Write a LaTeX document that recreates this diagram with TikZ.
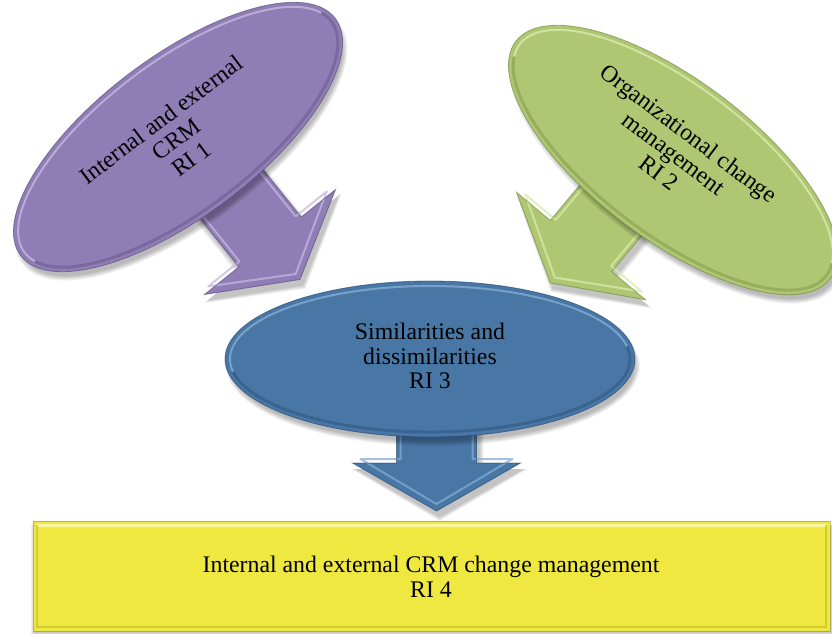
\documentclass[tikz,border=0pt]{standalone}
\usepackage{fontspec}
\setmainfont{Liberation Serif}
\usetikzlibrary{calc}

% colour sets: Fill / Light (bevel highlight) / Dark (bevel shade)
\definecolor{purpleFill}{RGB}{143,125,181}
\definecolor{purpleLight}{RGB}{196,184,224}
\definecolor{purpleDark}{RGB}{84,68,118}
\definecolor{greenFill}{RGB}{175,199,114}
\definecolor{greenLight}{RGB}{218,234,174}
\definecolor{greenDark}{RGB}{104,128,56}
\definecolor{blueFill}{RGB}{72,119,166}
\definecolor{blueLight}{RGB}{132,172,212}
\definecolor{blueDark}{RGB}{34,66,104}
\definecolor{yellowFill}{RGB}{238,232,64}
\definecolor{yellowLight}{RGB}{250,247,160}
\definecolor{yellowDark}{RGB}{160,154,20}

\tikzset{
  lbl/.style={font=\fontsize{23.8}{24.8}\selectfont, align=center, text=black, inner sep=0pt},
}

% bevelled, shadowed oval: #1 centre, #2 tilt, #3 half major axis, #4 half minor axis, #5 colour set
\newcommand\bevelOval[5]{%
  \pgfmathsetmacro\ovA{#3}\pgfmathsetmacro\ovB{#4}%
  \pgfmathsetmacro\inA{#3-5}\pgfmathsetmacro\inB{#4-5}%
  \begin{scope}[shift={(#1)}]
    \foreach \k in {0,...,5}{
      \pgfmathsetmacro\sa{#3-3+\k}\pgfmathsetmacro\sb{#4-3+\k}
      \fill[black, opacity=0.05, shift={(3,7)}, rotate=#2] (0,0) ellipse [x radius=\sa, y radius=\sb];
    }
    \begin{scope}[rotate=#2]
      \fill[#5Fill] (0,0) ellipse [x radius=\ovA, y radius=\ovB];
      \draw[#5Dark, line width=3, opacity=0.35] ({cos(-10)*\inA},{sin(-10)*\inB}) arc[start angle=-10, end angle=170, x radius=\inA, y radius=\inB];
      \draw[#5Light, line width=2, opacity=0.8] ({cos(170)*\inA},{sin(170)*\inB}) arc[start angle=170, end angle=350, x radius=\inA, y radius=\inB];
      \draw[#5Dark, line width=0.8, opacity=0.6] (0,0) ellipse [x radius=\ovA, y radius=\ovB];
    \end{scope}
  \end{scope}}

% bevelled block arrow: #1 middle of the head's base, #2 heading, #3 colour set
\newcommand\bevelArrow[3]{%
  \begin{scope}[shift={(#1)}]
    \foreach \k in {0,...,4}{
      \fill[black, opacity=0.05, shift={(3,6)}, rotate=#2]
        (-100,{-40-\k}) -- (0,{-40-\k}) -- (0,{-84-\k}) -- ({48+\k},0) -- (0,{84+\k}) -- (0,{40+\k}) -- (-100,{40+\k}) -- cycle;
    }
    \begin{scope}[rotate=#2]
      \fill[#3Fill] (-100,-40) -- (0,-40) -- (0,-84) -- (48,0) -- (0,84) -- (0,40) -- (-100,40) -- cycle;
      \draw[#3Light, line width=2, opacity=0.75, line join=round]
        (-100,-36) -- (-4,-36) -- (-4,-76) -- (41,0) -- (-4,76) -- (-4,36) -- (-100,36);
      \draw[#3Dark, line width=0.8, opacity=0.6, line join=miter]
        (-100,-40) -- (0,-40) -- (0,-84) -- (48,0) -- (0,84) -- (0,40) -- (-100,40);
    \end{scope}
  \end{scope}}

\begin{document}
\begin{tikzpicture}[x=1pt, y=-1pt]
  \useasboundingbox (0,0) rectangle (832,634);
  \clip (0,0) rectangle (832,634);

  % centres of the ovals and bases of the arrow heads
  \coordinate (c1) at (178,137);
  \coordinate (c2) at (673,160);
  \coordinate (c3) at (430,359);
  \coordinate (a1) at (270,242);
  \coordinate (a2) at (581,246);
  \coordinate (a3) at (436.5,463);

  % RI 1
  \bevelArrow{a1}{-51.3}{purple}
  \bevelOval{c1}{37}{197}{80}{purple}
  \node[lbl, rotate=37] (ri1) at (176,139) {Internal and external\\CRM\\RI 1};

  % RI 2
  \bevelArrow{a2}{-129.8}{green}
  \bevelOval{c2}{-37}{197}{80}{green}
  \node[lbl, rotate=-37] (ri2) at (674,153) {Organizational change\\management\\RI 2};

  % RI 3
  \bevelArrow{a3}{-90}{blue}
  \bevelOval{c3}{0}{205}{78}{blue}
  \node[lbl] (ri3) at (430,356) {Similarities and\\dissimilarities\\RI 3};

  % RI 4
  \foreach \k in {0,...,4}{
    \fill[black, opacity=0.06] ({33-\k+2},{521+4}) rectangle ({830+\k},{631+\k+1});
  }
  \fill[yellowFill] (33,521) rectangle (830,631);
  \draw[yellowLight, line width=3] (37,525) -- (826,525);
  \draw[yellowDark, line width=2.5, opacity=0.35] (37,525) -- (37,627) -- (826,627) -- (826,525);
  \draw[yellowDark, line width=0.8, opacity=0.6] (33,521) rectangle (830,631);
  \node[lbl] (ri4) at (431,577) {Internal and external CRM change management\\RI 4};
\end{tikzpicture}
\end{document}
